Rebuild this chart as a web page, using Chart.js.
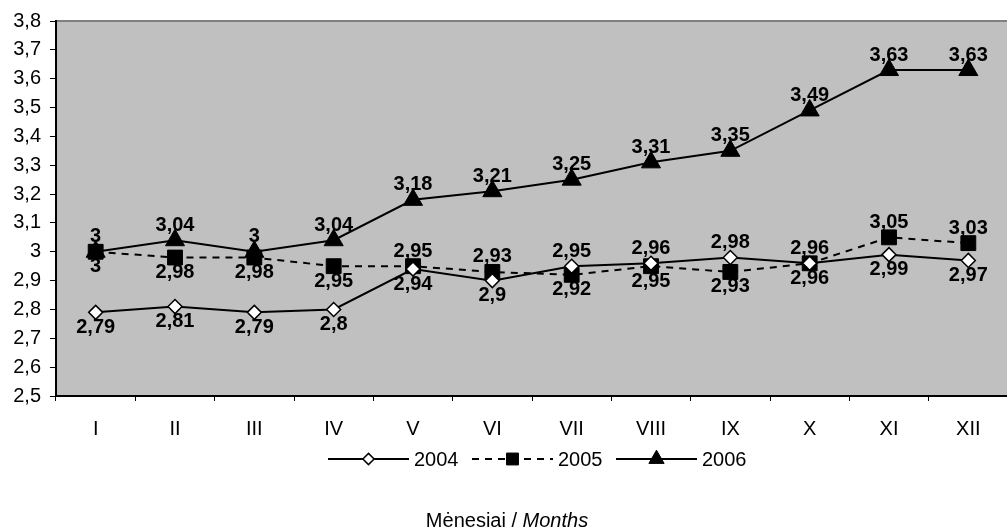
<!DOCTYPE html>
<html><head><meta charset="utf-8">
<script src="https://cdn.jsdelivr.net/npm/chart.js@4.4.0/dist/chart.umd.min.js"></script>
<style>html,body{margin:0;padding:0;background:#fff;overflow:hidden}</style>
</head><body>
<canvas id="c" width="1020" height="530" style="display:block;width:1020px;height:530px"></canvas>
<script>
// ---- data ----
const months = ['I','II','III','IV','V','VI','VII','VIII','IX','X','XI','XII'];
const seriesNames = ['2004','2005','2006'];
const s2004 = [2.79, 2.81, 2.79, 2.8, 2.94, 2.9, 2.95, 2.96, 2.98, 2.96, 2.99, 2.97];
const s2005 = [3, 2.98, 2.98, 2.95, 2.95, 2.93, 2.92, 2.95, 2.93, 2.96, 3.05, 3.03];
const s2006 = [3, 3.04, 3, 3.04, 3.18, 3.21, 3.25, 3.31, 3.35, 3.49, 3.63, 3.63];
const yMin = 2.5, yMax = 3.8, yStep = 0.1;
const axisTitleNormal = 'Mėnesiai / ';
const axisTitleItalic = 'Months';
// label side per point (1 = above, -1 = below)
const side2004 = [-1,-1,-1,-1,-1,-1, 1, 1, 1, 1,-1,-1];
const side2005 = [-1,-1,-1,-1, 1, 1,-1,-1,-1,-1, 1, 1];
const side2006 = [ 1, 1, 1, 1, 1, 1, 1, 1, 1, 1, 1, 1];

const FONT = '"Liberation Sans", Arial, sans-serif';
const FS = 20;
const fmt = v => String(Number(v.toFixed(2))).replace('.', ',');

const bgPlugin = {
  id: 'bg',
  beforeDraw(chart) {
    const {ctx, chartArea: a} = chart;
    ctx.save();
    ctx.fillStyle = '#fff';
    ctx.fillRect(0, 0, chart.width, chart.height);
    ctx.fillStyle = '#c0c0c0';
    ctx.fillRect(a.left, a.top, a.right - a.left, a.bottom - a.top);
    ctx.strokeStyle = '#808080';
    ctx.lineWidth = 2;
    ctx.beginPath();
    ctx.moveTo(a.left, a.top);
    ctx.lineTo(a.right, a.top);
    ctx.stroke();
    ctx.restore();
  }
};

const sides = [side2004, side2005, side2006];
const labelPlugin = {
  id: 'labels',
  afterDatasetsDraw(chart) {
    const ctx = chart.ctx;
    ctx.save();
    ctx.font = 'bold ' + FS + 'px ' + FONT;
    ctx.fillStyle = '#000';
    ctx.textAlign = 'center';
    ctx.textBaseline = 'middle';
    chart.data.datasets.forEach((ds, di) => {
      const meta = chart.getDatasetMeta(di);
      meta.data.forEach((pt, i) => {
        const s = sides[di][i];
        ctx.fillText(fmt(ds.data[i]), pt.x, pt.y - s * 15);
      });
    });
    ctx.restore();
  }
};

function drawShape(ctx, style, x, y, r) {
  if (style === 'rectRot') {
    ctx.moveTo(x, y - r); ctx.lineTo(x + r, y); ctx.lineTo(x, y + r); ctx.lineTo(x - r, y); ctx.closePath();
  } else if (style === 'rect') {
    const s = r * Math.SQRT1_2;
    ctx.rect(x - s, y - s, 2 * s, 2 * s);
  } else if (style === 'triangle') {
    ctx.moveTo(x, y - r);
    ctx.lineTo(x + r * 0.866, y + r * 0.5);
    ctx.lineTo(x - r * 0.866, y + r * 0.5);
    ctx.closePath();
  }
}

const legendPlugin = {
  id: 'customLegend',
  afterDraw(chart) {
    const ctx = chart.ctx;
    ctx.save();
    const y = 459;
    const start = 328, step = 144, lineLen = 81;
    chart.data.datasets.forEach((ds, i) => {
      const x0 = start + i * step;
      ctx.strokeStyle = '#000';
      ctx.lineWidth = 2;
      ctx.setLineDash(ds.borderDash || []);
      ctx.beginPath();
      ctx.moveTo(x0, y);
      ctx.lineTo(x0 + lineLen, y);
      ctx.stroke();
      ctx.setLineDash([]);
      ctx.fillStyle = ds.pointBackgroundColor;
      ctx.strokeStyle = '#000';
      ctx.lineWidth = ds.pointBorderWidth;
      ctx.beginPath();
      drawShape(ctx, ds.pointStyle, x0 + lineLen / 2, y, ds.pointRadius * 0.8);
      ctx.fill();
      ctx.stroke();
      ctx.fillStyle = '#000';
      ctx.font = FS + 'px ' + FONT;
      ctx.textAlign = 'left';
      ctx.textBaseline = 'middle';
      ctx.fillText(ds.label, x0 + lineLen + 5, y + 1);
    });
    // axis title
    ctx.font = FS + 'px ' + FONT;
    const w1 = ctx.measureText(axisTitleNormal).width;
    ctx.font = 'italic ' + FS + 'px ' + FONT;
    const w2 = ctx.measureText(axisTitleItalic).width;
    const cx = 507, ty = 521;
    const x = cx - (w1 + w2) / 2;
    ctx.textAlign = 'left';
    ctx.textBaseline = 'middle';
    ctx.fillStyle = '#000';
    ctx.font = FS + 'px ' + FONT;
    ctx.fillText(axisTitleNormal, x, ty);
    ctx.font = 'italic ' + FS + 'px ' + FONT;
    ctx.fillText(axisTitleItalic, x + w1, ty);
    ctx.restore();
  }
};

const common = {borderColor: '#000', borderWidth: 2, tension: 0, pointBorderColor: '#000', fill: false};

new Chart(document.getElementById('c'), {
  type: 'line',
  data: {
    labels: months,
    datasets: [
      Object.assign({}, common, {label: seriesNames[0], data: s2004, pointStyle: 'rectRot', pointRadius: 7, pointBackgroundColor: '#fff', pointBorderWidth: 1.5, order: 1}),
      Object.assign({}, common, {label: seriesNames[1], data: s2005, borderDash: [7, 6], pointStyle: 'rect', pointRadius: 10.5, pointBackgroundColor: '#000', pointBorderWidth: 1, order: 2}),
      Object.assign({}, common, {label: seriesNames[2], data: s2006, pointStyle: 'triangle', pointRadius: 11, pointBackgroundColor: '#000', pointBorderWidth: 1, order: 0})
    ]
  },
  options: {
    responsive: false,
    animation: false,
    devicePixelRatio: 1,
    events: [],
    layout: {padding: {top: 20, right: 7, left: 0, bottom: 0}},
    plugins: {legend: {display: false}, tooltip: {enabled: false}, title: {display: false}},
    scales: {
      x: {
        type: 'category',
        offset: true,
        grid: {display: true, offset: true, drawOnChartArea: false, drawTicks: true, tickLength: 5, color: '#000', lineWidth: 1},
        border: {display: true, color: '#000', width: 2},
        ticks: {color: '#000', font: {family: FONT, size: FS}, padding: 16, maxRotation: 0, autoSkip: false},
        afterFit: s => { s.height = 134; }
      },
      y: {
        min: yMin, max: yMax,
        grid: {display: true, drawOnChartArea: false, drawTicks: true, tickLength: 6, color: '#000', lineWidth: 1},
        border: {display: true, color: '#000', width: 2},
        ticks: {stepSize: yStep, color: '#000', font: {family: FONT, size: FS}, padding: 9, callback: v => fmt(v)},
        afterFit: s => { s.width = 56; }
      }
    }
  },
  plugins: [bgPlugin, labelPlugin, legendPlugin]
});
</script>
</body></html>
